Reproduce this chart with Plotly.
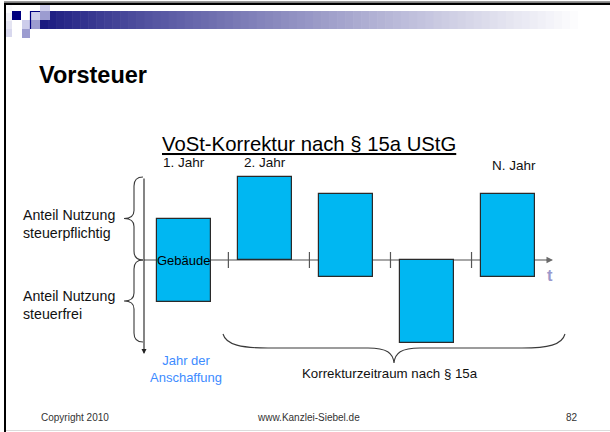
import plotly.graph_objects as go

# ---- data ----
years = ["Gebäude", "2. Jahr", "3. Jahr", "4. Jahr", "N. Jahr"]
steuerpflichtig = [50, 100, 80, 0, 80]   # share above the axis (%)
steuerfrei = [50, 0, 20, 100, 20]        # share below the axis (%)
year_labels = ["1. Jahr", "2. Jahr", "N. Jahr"]
year_label_idx = [0, 1, 4]

W, H = 610, 432
FONT = "Liberation Sans, Arial, sans-serif"
BAR_COLOR = "#00B7F2"

# axis scale (pixel layout)
px0, kx = 183.8, 81.05      # x: pixel of first bar, pixels per year
py0, ky = 260.0, 0.83       # y: pixel of zero line, pixels per percent


def px(x):
    return x / W


def py(y):
    return 1 - y / H


x_idx = list(range(len(years)))
heights = [a + b for a, b in zip(steuerpflichtig, steuerfrei)]
bases = [-b for b in steuerfrei]

fig = go.Figure()
fig.add_trace(go.Bar(
    x=x_idx, y=heights, base=bases, width=54 / kx,
    marker=dict(color=BAR_COLOR, line=dict(color="#2a2a2a", width=1.2)),
    hoverinfo="skip", showlegend=False,
))

shapes = []
annotations = []

# ---- header decoration ----
shapes.append(dict(type="rect", xref="paper", yref="paper", x0=px(4), x1=px(610),
                   y0=py(2), y1=py(1), fillcolor="#9a9a9a", line_width=0, layer="above"))
shapes.append(dict(type="rect", xref="paper", yref="paper", x0=px(4), x1=px(610),
                   y0=py(5), y1=py(2.5), fillcolor="#000000", line_width=0, layer="above"))
shapes.append(dict(type="rect", xref="paper", yref="paper", x0=px(4), x1=px(6),
                   y0=py(432), y1=py(3), fillcolor="#000000", line_width=0, layer="above"))
shapes.append(dict(type="line", xref="paper", yref="paper", x0=px(6), x1=px(610),
                   y0=py(430.5), y1=py(430.5), line=dict(color="#dcdcdc", width=1)))

# gradient band
n = 68
x_start, x_end = 40, 586
step = (x_end - x_start) / n
c0, c1 = (26, 26, 128), (255, 255, 255)
for i in range(n):
    t = (i / (n - 1)) ** 0.85
    c = tuple(int(round(c0[j] + (c1[j] - c0[j]) * t)) for j in range(3))
    shapes.append(dict(type="rect", xref="paper", yref="paper",
                       x0=px(x_start + i * step), x1=px(x_start + (i + 1) * step + 0.6),
                       y0=py(29), y1=py(11), fillcolor="rgb(%d,%d,%d)" % c,
                       line_width=0, layer="above"))

# left light strip
for i, col in enumerate(["#fbfbfd", "#f0f0f8", "#e4e4f2", "#d8d8ee"]):
    shapes.append(dict(type="rect", xref="paper", yref="paper", x0=px(6), x1=px(12),
                       y0=py(5 + (i + 1) * 8), y1=py(5 + i * 8), fillcolor=col,
                       line_width=0, layer="above"))

squares = [
    (12, 21, 11, 20, "#00007f"),
    (22, 30, 20, 29, "#cdcdeb"),
    (22, 30, 29, 38, "#9c9cd0"),
    (30, 40, 11, 20, "#cdcdeb"),
    (30, 40, 20, 29, "#9c9cd0"),
    (40, 50, 5, 11, "#cdcdeb"),
    (40, 50, 11, 20, "#9c9cd0"),
]
for x0, x1, y0, y1, col in squares:
    shapes.append(dict(type="rect", xref="paper", yref="paper", x0=px(x0), x1=px(x1),
                       y0=py(y1), y1=py(y0), fillcolor=col, line_width=0, layer="above"))
shapes.append(dict(type="path", xref="paper", yref="paper",
                   path="M %f,%f L %f,%f L %f,%f" % (px(30.5), py(29), px(30.5), py(11.5), px(40), py(11.5)),
                   line=dict(color="#00007f", width=1.2), layer="above"))

# ---- time axis ----
shapes.append(dict(type="line", xref="paper", yref="y", x0=px(144), x1=px(548),
                   y0=0, y1=0, line=dict(color="#8a8a8a", width=1.3), layer="below"))
annotations.append(dict(xref="paper", yref="y", x=px(553), y=0, ax=-8, ay=0, text="",
                        showarrow=True, arrowhead=2, arrowsize=1, arrowwidth=1.3,
                        arrowcolor="#6a6a6a"))
for k in range(len(years) - 1):
    shapes.append(dict(type="line", xref="x", yref="paper", x0=k + 0.55, x1=k + 0.55,
                       y0=py(268), y1=py(252), line=dict(color="#555555", width=1.2)))

# vertical arrow
annotations.append(dict(xref="paper", yref="paper", x=px(144), y=py(354), ax=0, ay=-177,
                        text="", showarrow=True, arrowhead=2, arrowsize=0.9,
                        arrowwidth=1.1, arrowcolor="#222222"))


def brace_v(top, bot, tipx=124, spinex=143, midx=134):
    mid = (top + bot) / 2
    pts = [
        "M %f,%f" % (px(spinex), py(top)),
        "Q %f,%f %f,%f" % (px(midx), py(top), px(midx), py(top + 9)),
        "L %f,%f" % (px(midx), py(mid - 8)),
        "Q %f,%f %f,%f" % (px(midx), py(mid), px(tipx), py(mid)),
        "Q %f,%f %f,%f" % (px(midx), py(mid), px(midx), py(mid + 8)),
        "L %f,%f" % (px(midx), py(bot - 9)),
        "Q %f,%f %f,%f" % (px(midx), py(bot), px(spinex), py(bot)),
    ]
    return " ".join(pts)


for top, bot in [(177, 260), (260, 342)]:
    shapes.append(dict(type="path", xref="paper", yref="paper", path=brace_v(top, bot),
                       line=dict(color="#3a3a3a", width=1.1)))

# horizontal brace under the correction period
hb = [
    "M %f,%f" % (px(223), py(334)),
    "C %f,%f %f,%f %f,%f" % (px(226), py(345), px(242), py(348), px(268), py(348)),
    "L %f,%f" % (px(368), py(348)),
    "C %f,%f %f,%f %f,%f" % (px(387), py(348), px(393), py(353), px(394), py(363)),
    "C %f,%f %f,%f %f,%f" % (px(395), py(353), px(401), py(348), px(420), py(348)),
    "L %f,%f" % (px(522), py(348)),
    "C %f,%f %f,%f %f,%f" % (px(548), py(348), px(562), py(345), px(565), py(334)),
]
shapes.append(dict(type="path", xref="paper", yref="paper", path=" ".join(hb),
                   line=dict(color="#3a3a3a", width=1.1)))


def text(x, y, s, size, color="#111111", anchor="center", bold=False, **kw):
    if bold:
        s = "<b>%s</b>" % s
    annotations.append(dict(xref="paper", yref="paper", x=px(x), y=py(y), text=s,
                            showarrow=False, xanchor=anchor, yanchor="middle",
                            font=dict(family=FONT, size=size, color=color, **kw.pop("font", {})),
                            **kw))


text(37, 75, "Vorsteuer", 23.5, color="#000000", anchor="left", bold=True)
text(308.5, 144, "VoSt-Korrektur nach § 15a UStG", 20.3, color="#000000",
     font=dict(lineposition="under"))

# year labels above bars (placed on data x)
for lbl, idx, yy in zip(year_labels, year_label_idx, [162, 162, 165]):
    annotations.append(dict(xref="x", yref="paper", x=idx + (0.07 if idx == 4 else 0),
                            y=py(yy), text=lbl, showarrow=False, xanchor="center",
                            yanchor="middle", font=dict(family=FONT, size=13.5, color="#111111")))

annotations.append(dict(xref="x", yref="y", x=0, y=0, text=years[0], showarrow=False,
                        xanchor="center", yanchor="middle",
                        font=dict(family=FONT, size=13, color="#000000")))

text(21, 224, "Anteil Nutzung<br>steuerpflichtig", 14.2, anchor="left", align="left")
text(21, 305, "Anteil Nutzung<br>steuerfrei", 14.2, anchor="left", align="left")
text(550, 275, "t", 16.5, color="#9999cc", bold=True)
text(186.5, 369, "Jahr der<br>Anschaffung", 13, color="#3d8bff")
text(389.5, 373, "Korrekturzeitraum nach § 15a", 13.3)
text(39, 417, "Copyright 2010", 10, color="#333333", anchor="left")
text(308.5, 417, "www.Kanzlei-Siebel.de", 10, color="#333333")
text(571.5, 417, "82", 10, color="#333333")

fig.update_layout(
    width=W, height=H, margin=dict(l=0, r=0, t=0, b=0, pad=0),
    paper_bgcolor="white", plot_bgcolor="white",
    xaxis=dict(range=[-px0 / kx, (W - px0) / kx], visible=False, fixedrange=True),
    yaxis=dict(range=[-(H - py0) / ky, py0 / ky], visible=False, fixedrange=True),
    shapes=shapes, annotations=annotations, showlegend=False, bargap=0,
)

fig.write_html(
    "out.html",
    config={"displayModeBar": False},
    post_script="document.body.style.margin='0';document.body.style.overflow='hidden';",
)
